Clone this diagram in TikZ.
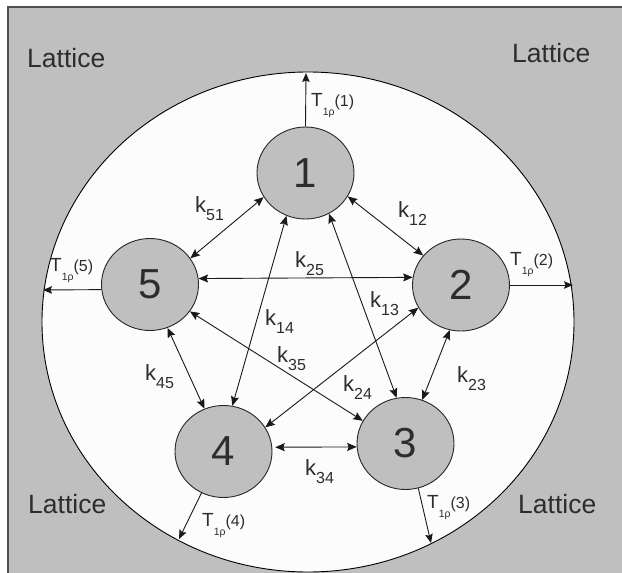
\documentclass[tikz,border=0pt]{standalone}
\usepackage{fontspec}
\setmainfont{Liberation Sans}
\usetikzlibrary{arrows.meta,shapes.geometric}
\definecolor{lgray}{RGB}{191,191,191}
\definecolor{ellfill}{RGB}{252,252,252}
\definecolor{txt}{RGB}{45,45,45}
\definecolor{framec}{RGB}{80,80,80}
\newcommand\klab[1]{k\raisebox{-8pt}{\fontsize{16}{16}\selectfont #1}}
\newcommand\Tlab[1]{T\raisebox{-9pt}{\fontsize{10.5}{10.5}\selectfont 1ρ}{\fontsize{16}{16}\selectfont(#1)}}
\begin{document}
\begin{tikzpicture}[x=1pt,y=-1pt,
  st/.style={ellipse, draw=black!85, fill=lgray, minimum width=97pt, minimum height=92pt,
    inner sep=0pt, line width=0.9pt, font=\fontsize{42}{42}\selectfont, text=txt},
  tip/.style={Stealth[length=9.5pt,width=8pt,inset=1.5pt]},
  conn/.style={line width=0.9pt, draw=black!90, {Stealth[length=9.5pt,width=8pt,inset=1.5pt]}-{Stealth[length=9.5pt,width=8pt,inset=1.5pt]}},
  relax/.style={line width=0.9pt, draw=black!90, -{Stealth[length=9pt,width=7.5pt,inset=1.5pt]}},
  klabel/.style={anchor=base west, inner sep=0pt, text=txt, font=\fontsize{22}{22}\selectfont},
  tlabel/.style={anchor=base west, inner sep=0pt, text=txt, font=\fontsize{19}{19}\selectfont},
  latt/.style={anchor=base west, inner sep=0pt, text=txt, font=\fontsize{26.5}{26.5}\selectfont}]
\useasboundingbox (0,0) rectangle (622,573);
\fill[white] (0,0) rectangle (622,573);
\fill[lgray] (8,7) rectangle (630,580);
\draw[framec, line width=1.8pt] (8,580) -- (8,7) -- (630,7);
\draw[fill=ellfill, line width=0.9pt] (308,322) ellipse [x radius=266, y radius=250];

\node[latt] (l1) at (27,67) {Lattice};
\node[latt] (l2) at (512,62) {Lattice};
\node[latt] (l3) at (28,513) {Lattice};
\node[latt] (l4) at (518,513) {Lattice};

\node[st] (n1) at (305.5,173) {1};
\node[st] (n2) at (461,285) {2};
\node[st] (n3) at (405.5,443.5) {3};
\node[st] (n4) at (223.5,451.5) {4};
\node[st] (n5) at (150,284.5) {5};

\coordinate (t1) at (306,73);
\coordinate (t2) at (573,285);
\coordinate (t5) at (43,290);
\coordinate (t4) at (179,539);
\coordinate (t3) at (431,543);

\draw[conn] (n5.33.2) -- (n1.210.9);
\draw[conn] (n1.331.1) -- (n2.142.4);
\draw[conn] (n5.7.4) -- (n2.171.9);
\draw[conn] (n1.246.2) -- (n4.79.4);
\draw[conn] (n1.300.3) -- (n3.101.5);
\draw[conn] (n2.208.6) -- (n4.30.4);
\draw[conn] (n5.326.8) -- (n3.152.2);
\draw[conn] (n5.292) -- (n4.114.7);
\draw[conn] (n2.256) -- (n3.69.4);
\draw[conn, shorten <=3pt] (n4.5.3) -- (n3.184.1);

\draw[relax] (n1.90) -- (t1);
\draw[relax] (n2.0) -- (t2);
\draw[relax] (n5.186.5) -- (t5);
\draw[relax] (n4.242.6) -- (t4);
\draw[relax] (n3.286.9) -- (t3);

\node[klabel] (k51) at (195,212) {\klab{51}};
\node[klabel] (k12) at (398,217) {\klab{12}};
\node[klabel] (k25) at (295,267) {\klab{25}};
\node[klabel] (k13) at (370,307) {\klab{13}};
\node[klabel] (k14) at (265,325) {\klab{14}};
\node[klabel] (k35) at (277,362) {\klab{35}};
\node[klabel] (k45) at (145,380) {\klab{45}};
\node[klabel] (k24) at (343,391) {\klab{24}};
\node[klabel] (k23) at (457,382) {\klab{23}};
\node[klabel] (k34) at (305,475) {\klab{34}};

\node[tlabel] (T1) at (311,106) {\Tlab{1}};
\node[tlabel] (T2) at (510,265) {\Tlab{2}};
\node[tlabel] (T5) at (50,271) {\Tlab{5}};
\node[tlabel] (T4) at (202,526) {\Tlab{4}};
\node[tlabel] (T3) at (427,508) {\Tlab{3}};
\end{tikzpicture}
\end{document}
